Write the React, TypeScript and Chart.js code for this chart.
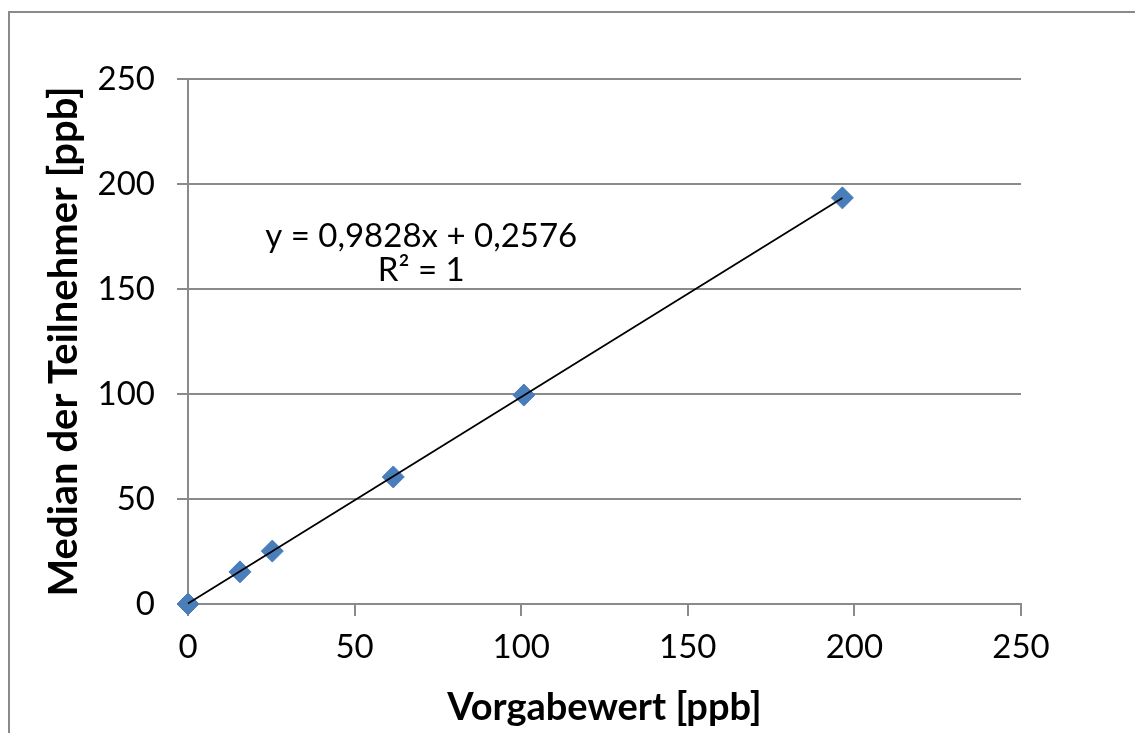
import React, { useEffect, useRef } from "react";
import { Chart, registerables } from "chart.js";

Chart.register(...registerables);

// Data
const vorgabewert = [0, 15.6, 25.3, 61.6, 100.8, 196.4];
const median = [0, 15.3, 25.2, 60.5, 99.5, 193.4];
const trendX = [0, 196.4];
const trendY = [0.26, 193.3];
const tickValues = [0, 50, 100, 150, 200, 250];
const equationLines = ["y = 0,9828x + 0,2576", "R² = 1"];
const xTitle = "Vorgabewert [ppb]";
const yTitle = "Median der Teilnehmer [ppb]";

const W = 1135;
const H = 733;
const GRID = "#8a8a8a";
const FONT = "Lato";

export default function App() {
  const ref = useRef<HTMLCanvasElement | null>(null);

  useEffect(() => {
    if (!ref.current) return;

    const framePlugin = {
      id: "frame",
      beforeDraw(chart: any) {
        const ctx = chart.ctx;
        ctx.save();
        ctx.fillStyle = "#ffffff";
        ctx.fillRect(0, 0, W, H);
        ctx.strokeStyle = GRID;
        ctx.lineWidth = 2;
        ctx.beginPath();
        ctx.moveTo(9, H);
        ctx.lineTo(9, 12);
        ctx.lineTo(W, 12);
        ctx.stroke();
        ctx.restore();
      },
    };

    const equationPlugin = {
      id: "equation",
      afterDatasetsDraw(chart: any) {
        const ctx = chart.ctx;
        const xs = chart.scales.x;
        const ys = chart.scales.y;
        const cx = xs.getPixelForValue(70);
        const cy = ys.getPixelForValue(175);
        ctx.save();
        ctx.fillStyle = "#000";
        ctx.font = `33px ${FONT}`;
        ctx.textAlign = "center";
        ctx.textBaseline = "middle";
        equationLines.forEach((t, i) => ctx.fillText(t, cx, cy + i * 34));
        ctx.restore();
      },
    };

    const chart = new Chart(ref.current, {
      type: "scatter",
      data: {
        datasets: [
          {
            type: "line",
            label: "Trend",
            data: trendX.map((x, i) => ({ x, y: trendY[i] })),
            borderColor: "#000000",
            borderWidth: 1.8,
            pointRadius: 0,
            fill: false,
            clip: false,
          } as any,
          {
            label: "Median",
            data: vorgabewert.map((x, i) => ({ x, y: median[i] })),
            pointStyle: "rectRot",
            pointRadius: 11,
            backgroundColor: "#4a7ebb",
            borderColor: "#4a7ebb",
            borderWidth: 1,
            clip: false,
          } as any,
        ],
      },
      options: {
        responsive: false,
        animation: false,
        layout: { padding: { top: 79, right: 114, left: 0, bottom: 0 } },
        plugins: {
          legend: { display: false },
          tooltip: { enabled: false },
        },
        scales: {
          x: {
            type: "linear",
            min: 0,
            max: 250,
            afterBuildTicks: (s: any) => {
              s.ticks = tickValues.map((v) => ({ value: v }));
            },
            afterFit: (s: any) => {
              s.height = 129;
            },
            ticks: {
              color: "#000",
              font: { family: FONT, size: 33 },
              padding: 12,
              maxRotation: 0,
            },
            grid: {
              drawOnChartArea: false,
              drawTicks: true,
              tickLength: 12,
              color: GRID,
              lineWidth: 2,
            },
            border: { display: true, color: GRID, width: 2 },
            title: {
              display: true,
              text: xTitle,
              color: "#000",
              font: { family: FONT, size: 38, weight: "bold" },
              padding: { top: 0, bottom: 2 },
            },
          },
          y: {
            type: "linear",
            min: 0,
            max: 250,
            afterBuildTicks: (s: any) => {
              s.ticks = tickValues.map((v) => ({ value: v }));
            },
            afterFit: (s: any) => {
              s.width = 188;
            },
            ticks: {
              color: "#000",
              font: { family: FONT, size: 33 },
              padding: 22,
            },
            grid: {
              drawOnChartArea: true,
              drawTicks: true,
              tickLength: 11,
              color: GRID,
              lineWidth: 2,
            },
            border: { display: true, color: GRID, width: 2 },
            title: {
              display: true,
              text: yTitle,
              color: "#000",
              font: { family: FONT, size: 40, weight: "bold" },
              padding: { top: 40, bottom: 0 },
            },
          },
        },
      },
      plugins: [framePlugin, equationPlugin],
    });

    return () => chart.destroy();
  }, []);

  return (
    <div style={{ position: "absolute", left: 0, top: 0, width: W, height: H }}>
      <canvas ref={ref} width={W} height={H} style={{ display: "block" }} />
    </div>
  );
}
